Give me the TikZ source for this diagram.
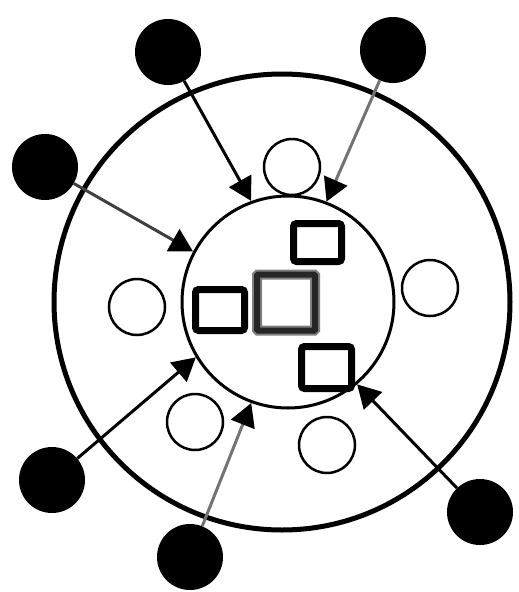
\documentclass[tikz,border=0pt]{standalone}
\usetikzlibrary{arrows.meta}
\tikzset{
  blob/.style={circle,fill=black,minimum size=66pt,inner sep=0pt},
  ring/.style={circle,draw=black,line width=2.5pt,minimum size=56pt,inner sep=0pt},
  seat/.style={draw=black,line width=7pt,rounded corners=3pt,inner sep=0pt},
  push/.style={-{Triangle[length=23pt,width=25pt,color=black]},line width=3pt,draw=#1},
  push/.default=black,
}

\begin{document}
\begin{tikzpicture}[x=1pt,y=-1pt]
    \useasboundingbox[fill=white] (0,0) rectangle (519,592);
    \node[circle,draw,line width=5pt,minimum size=456pt,inner sep=0pt] (outer) at (282,302) {};
    \node[circle,draw,line width=3pt,minimum size=212pt,inner sep=0pt] (inner) at (288,302) {};
    % open seats
    \foreach \n/\px/\py in {n/292/167,e/430/288,w/137/307,sw/195/422,se/327/445}
      \node[ring] (r\n) at (\px,\py) {};
    % squares
    \node[seat,minimum width=48pt,minimum height=38pt] (sq1) at (317.5,242.5) {};
    \node[seat,minimum width=49pt,minimum height=41pt] (sq2) at (220,310) {};
    \node[seat,minimum width=50pt,minimum height=42pt] (sq3) at (326.5,367.5) {};
    \node[seat,draw=black!85,line width=6pt,rounded corners=1pt,minimum width=58pt,minimum height=56pt,
      preaction={draw=black!50,line width=10pt}] (mid) at (286,302.5) {};
    % people and arrows
    \foreach \n/\px/\py/\a/\c in {nw/168/52/110/black,ne/393/50/69/black!55,w/45/167/152/black!75,
      sw/52/480/211/black,s/190/557/250/black!55,se/480/512/310/black}{
      \node[blob] (p\n) at (\px,\py) {};
      \draw[push=\c] (p\n) -- (inner.\a);
    }
\end{tikzpicture}
\end{document}
